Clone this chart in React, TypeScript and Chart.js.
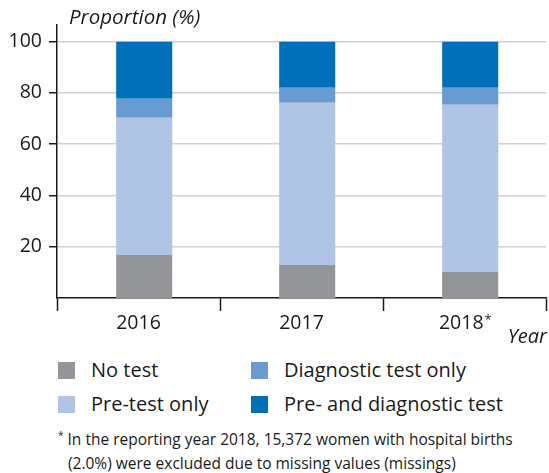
import React, { useEffect, useRef } from "react";
import { Chart, registerables } from "chart.js";

Chart.register(...registerables);

const years = ["2016", "2017", "2018*"];
const seriesNames = ["No test", "Pre-test only", "Diagnostic test only", "Pre- and diagnostic test"];
const seriesColors = ["#939598", "#b0c4e6", "#689bd2", "#0070bb"];
const noTest = [16.8, 12.9, 10.2];
const preTestOnly = [53.5, 63.3, 65.2];
const diagnosticOnly = [7.4, 5.8, 6.6];
const preAndDiagnostic = [22.3, 18.0, 18.0];
const seriesValues = [noTest, preTestOnly, diagnosticOnly, preAndDiagnostic];
const yTicks = [20, 40, 60, 80, 100];
const yMax = 106.5;

const FONT = '"Open Sans", "DejaVu Sans", sans-serif';
const INK = "#1a1a1a";
const TICK_FONT_SIZE = 19.5;
const SUP_GAP = "\u2009\u2009";

const titlesPlugin = {
  id: "axisTitles",
  afterDraw(chart: any) {
    const { ctx, chartArea } = chart;
    ctx.save();
    ctx.fillStyle = INK;
    ctx.font = `italic 20.5px ${FONT}`;
    ctx.textBaseline = "alphabetic";
    ctx.textAlign = "left";
    ctx.fillText("Proportion (%)", chartArea.left + 12, 24);
    ctx.font = `italic 20px ${FONT}`;
    ctx.textAlign = "right";
    ctx.fillText("Year", chartArea.right + 1, chartArea.bottom + 45);

    // superscript asterisk on category labels ending with "*"
    const xs = chart.scales.x;
    years.forEach((lab, i) => {
      if (!lab.endsWith("*")) return;
      const base = lab.slice(0, -1);
      const p = xs.getPixelForTick(i);
      ctx.font = `${TICK_FONT_SIZE}px ${FONT}`;
      const w = ctx.measureText(base + SUP_GAP).width;
      const bw = ctx.measureText(base).width;
      const ax = p - w / 2 + bw + 1;
      ctx.font = `13px ${FONT}`;
      ctx.textAlign = "left";
      ctx.fillText("*", ax, xs.top + 26);
    });
    ctx.restore();
  },
};

export default function App() {
  const ref = useRef<HTMLCanvasElement | null>(null);

  useEffect(() => {
    document.body.style.margin = "0";
    const canvas = ref.current;
    if (!canvas) return;
    const chart = new Chart(canvas, {
      type: "bar",
      data: {
        datasets: seriesValues.map((vals, i) => ({
          label: seriesNames[i],
          data: vals.map((v, j) => ({ x: j, y: v })),
          backgroundColor: seriesColors[i],
          borderWidth: 0,
          categoryPercentage: 1,
          barPercentage: 0.344,
          xAxisID: "xb",
          yAxisID: "y",
        })),
      },
      options: {
        animation: false,
        responsive: false,
        maintainAspectRatio: false,
        layout: { padding: { top: 25, right: 3, left: 0, bottom: 0 } },
        plugins: {
          legend: { display: false },
          tooltip: { enabled: false },
          title: { display: false },
        },
        scales: {
          x: {
            type: "category",
            labels: years,
            offset: true,
            grid: {
              offset: true,
              drawOnChartArea: false,
              drawTicks: true,
              tickLength: 13,
              tickColor: INK,
              tickWidth: 1.5,
              color: INK,
            },
            border: { display: true, color: INK, width: 1.5 },
            ticks: {
              color: INK,
              font: { family: FONT, size: TICK_FONT_SIZE },
              padding: 1,
              maxRotation: 0,
              callback: (_v: any, i: number) => {
                const lab = years[i];
                return lab.endsWith("*") ? lab.slice(0, -1) + SUP_GAP : lab;
              },
            },
            afterFit(scale: any) {
              scale.height = 52;
            },
          },
          xb: {
            type: "linear",
            display: false,
            stacked: true,
            offset: false,
            grid: { offset: false },
            min: -0.535,
            max: years.length - 0.535,
            afterBuildTicks(scale: any) {
              scale.ticks = years.map((_y, i) => ({ value: i }));
            },
          },
          y: {
            stacked: true,
            min: 0,
            max: yMax,
            grid: {
              color: "#cfd0d6",
              lineWidth: 1.5,
              drawTicks: true,
              tickLength: 8,
              tickColor: INK,
              tickWidth: 1.5,
            },
            border: { display: true, color: INK, width: 1.5 },
            ticks: {
              color: INK,
              font: { family: FONT, size: TICK_FONT_SIZE },
              padding: 7,
            },
            afterBuildTicks(scale: any) {
              scale.ticks = yTicks.map((v) => ({ value: v }));
            },
            afterFit(scale: any) {
              scale.width = 57;
            },
          },
        },
      },
      plugins: [titlesPlugin],
    });
    return () => chart.destroy();
  }, []);

  const legendOrder = [0, 1, 2, 3];

  return (
    <div style={{ position: "relative", width: 549, height: 473, fontFamily: FONT, color: INK }}>
      <canvas ref={ref} width={549} height={350} style={{ position: "absolute", left: 0, top: 0, width: 549, height: 350 }} />
      <div
        style={{
          position: "absolute",
          left: 58,
          top: 353,
          display: "grid",
          gridAutoFlow: "column",
          gridTemplateRows: "34px 34px",
          gridTemplateColumns: "193px auto",
        }}
      >
        {legendOrder.map((i) => (
          <div key={i} style={{ display: "flex", alignItems: "center", height: 34 }}>
            <span style={{ display: "inline-block", width: 17, height: 17, background: seriesColors[i], marginRight: 16 }} />
            <span style={{ fontSize: 20, lineHeight: "34px", whiteSpace: "nowrap" }}>{seriesNames[i]}</span>
          </div>
        ))}
      </div>
      <div style={{ position: "absolute", left: 58, top: 427, fontSize: 15.5, lineHeight: "24px", whiteSpace: "nowrap" }}>
        <div>
          <span style={{ fontSize: 10, verticalAlign: "top", lineHeight: "16px", marginRight: 4 }}>*</span>
          In the reporting year 2018, 15,372 women with hospital births
        </div>
        <div style={{ paddingLeft: 10 }}>(2.0%) were excluded due to missing values (missings)</div>
      </div>
    </div>
  );
}
